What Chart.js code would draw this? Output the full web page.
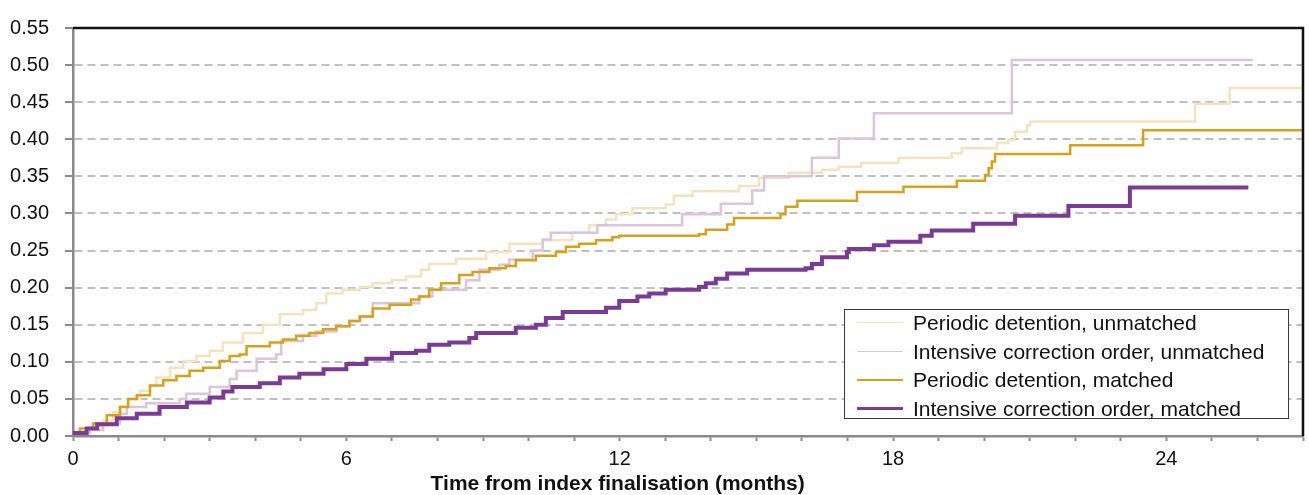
<!DOCTYPE html>
<html>
<head>
<meta charset="utf-8">
<title>Cumulative incidence by time from index finalisation</title>
<script src="https://cdn.jsdelivr.net/npm/chart.js@4.4.1/dist/chart.umd.min.js"></script>
<style>
  html, body { margin: 0; padding: 0; background: #ffffff; }
  #wrap { position: relative; width: 1309px; height: 495px; }
  #chart { display: block; }
  #legend {
    position: absolute; left: 844px; top: 309px; width: 445px; height: 110px;
    box-sizing: border-box; border: 1px solid #3a3a3a; background: #ffffff;
    font-family: "Liberation Sans", Arial, sans-serif; font-size: 21px; color: #111;
  }
  #legend .row { position: absolute; left: 0; height: 28px; line-height: 28px; white-space: nowrap; }
  #legend .swatch { position: absolute; left: 12px; width: 46px; top: 14px; }
  #legend .label { position: absolute; left: 68px; top: 0; }
</style>
</head>
<body>
<div id="wrap">
  <canvas id="chart" width="1309" height="495"></canvas>
  <div id="legend"></div>
</div>
<script>
// Series: step-change times (months) and cumulative proportion from that time on.
const seriesNames = [
  "Periodic detention, unmatched",
  "Intensive correction order, unmatched",
  "Periodic detention, matched",
  "Intensive correction order, matched"
];

const pdUnmatchedT = [0, 0.37, 0.66, 0.88, 1.05, 1.21, 1.47, 1.69, 1.83, 2.13, 2.42, 2.71, 3.0, 3.29, 3.73,
  4.17, 4.54, 5.05, 5.34, 5.56, 5.92, 6.3, 6.58, 7.0, 7.31, 7.64, 7.82, 8.41, 9.07, 9.58, 10.31, 10.96,
  11.33, 11.7, 11.92, 12.28, 13.01, 13.19, 13.6, 14.62, 15.06, 15.71, 16.44, 16.81, 17.3, 18.12, 19.29,
  19.51, 20.28, 20.53, 20.68, 20.94, 21.01, 24.63, 25.39, 27];
const pdUnmatchedV = [0.004, 0.012, 0.021, 0.032, 0.040, 0.050, 0.061, 0.068, 0.079, 0.092, 0.101, 0.108,
  0.115, 0.126, 0.139, 0.150, 0.164, 0.170, 0.179, 0.192, 0.197, 0.201, 0.206, 0.210, 0.215, 0.224, 0.232,
  0.239, 0.248, 0.259, 0.264, 0.274, 0.284, 0.292, 0.299, 0.307, 0.312, 0.324, 0.330, 0.337, 0.348, 0.355,
  0.359, 0.363, 0.368, 0.375, 0.381, 0.388, 0.395, 0.399, 0.410, 0.419, 0.424, 0.448, 0.469, 0.469];

const icoUnmatchedT = [0, 0.37, 0.66, 1.03, 1.18, 1.61, 2.34, 2.49, 3.0, 3.44, 3.59, 4.03, 4.46, 4.57, 5.05,
  5.34, 5.78, 6.07, 6.29, 6.58, 7.6, 7.89, 8.63, 8.92, 9.36, 9.58, 10.09, 10.31, 10.49, 11.51, 13.37, 14.22,
  14.91, 15.17, 16.22, 16.81, 17.58, 20.61, 25.9];
const icoUnmatchedV = [0.004, 0.008, 0.017, 0.030, 0.039, 0.044, 0.050, 0.057, 0.066, 0.077, 0.088, 0.104,
  0.110, 0.128, 0.135, 0.141, 0.148, 0.155, 0.161, 0.179, 0.188, 0.197, 0.210, 0.224, 0.231, 0.238, 0.250,
  0.265, 0.274, 0.284, 0.299, 0.313, 0.331, 0.350, 0.375, 0.401, 0.435, 0.507, 0.507];

const pdMatchedT = [0, 0.15, 0.44, 0.74, 1.03, 1.21, 1.4, 1.69, 1.98, 2.27, 2.56, 2.86, 3.22, 3.44, 3.66,
  3.81, 4.32, 4.61, 4.9, 5.19, 5.49, 5.78, 6.07, 6.3, 6.58, 6.95, 7.42, 7.6, 7.82, 8.08, 8.48, 8.77, 9.14,
  9.5, 9.72, 10.16, 10.6, 10.82, 11.11, 11.48, 11.84, 11.99, 13.74, 13.89, 14.36, 14.51, 15.53, 15.64,
  15.9, 17.21, 18.23, 19.4, 20.02, 20.1, 20.17, 20.24, 21.89, 23.49, 27];
const pdMatchedV = [0.004, 0.010, 0.017, 0.028, 0.039, 0.050, 0.055, 0.068, 0.075, 0.081, 0.088, 0.092,
  0.101, 0.108, 0.110, 0.121, 0.126, 0.130, 0.135, 0.139, 0.144, 0.148, 0.155, 0.161, 0.172, 0.177, 0.184,
  0.188, 0.197, 0.206, 0.217, 0.221, 0.226, 0.229, 0.237, 0.243, 0.248, 0.255, 0.259, 0.264, 0.268, 0.270,
  0.272, 0.278, 0.285, 0.294, 0.299, 0.309, 0.317, 0.329, 0.336, 0.344, 0.352, 0.361, 0.370, 0.380, 0.392,
  0.412, 0.412];

const icoMatchedT = [0, 0.3, 0.53, 0.96, 1.4, 1.9, 2.5, 3.0, 3.3, 3.5, 4.1, 4.54, 4.97, 5.5, 6.0, 6.44,
  7.0, 7.53, 7.82, 8.26, 8.70, 8.85, 9.72, 10.16, 10.38, 10.75, 11.70, 11.99, 12.39, 12.65, 13.01, 13.74,
  13.89, 14.11, 14.36, 14.80, 16.08, 16.22, 16.44, 16.99, 17.03, 17.58, 17.9, 18.6, 18.85, 19.76, 20.68,
  21.85, 23.2, 25.8];
const icoMatchedV = [0.004, 0.010, 0.016, 0.024, 0.030, 0.039, 0.045, 0.052, 0.060, 0.066, 0.071, 0.079,
  0.084, 0.090, 0.097, 0.104, 0.112, 0.115, 0.123, 0.126, 0.132, 0.139, 0.146, 0.150, 0.159, 0.167, 0.173,
  0.182, 0.188, 0.192, 0.197, 0.201, 0.206, 0.212, 0.219, 0.224, 0.226, 0.232, 0.241, 0.248, 0.252, 0.257,
  0.262, 0.270, 0.277, 0.286, 0.297, 0.310, 0.335, 0.335];

const xTickStep = 1;      // minor ticks every month
const xLabelEvery = 6;    // labelled every six months
const yTickStep = 0.05;

const seriesColors = ["#f5e3bf", "#dcc4dc", "#d6a21c", "#7b3b95"];
const seriesWidths = [2.5, 2.5, 2.5, 4];
const legendWidths = [1.5, 1.5, 2, 3];

function toPoints(ts, vs) {
  return ts.map((t, i) => ({ x: t, y: vs[i] }));
}

const allT = [pdUnmatchedT, icoUnmatchedT, pdMatchedT, icoMatchedT];
const allV = [pdUnmatchedV, icoUnmatchedV, pdMatchedV, icoMatchedV];
const drawOrder = [3, 2, 1, 0]; // matched ICO on top

// Each value holds from its time until the next change, so the line runs
// level first and rises at the next change time.
const datasets = seriesNames.map((name, i) => ({
  label: name,
  data: toPoints(allT[i], allV[i]),
  borderColor: seriesColors[i],
  borderWidth: seriesWidths[i],
  stepped: 'before',
  pointRadius: 0,
  fill: false,
  order: drawOrder[i]
}));

const tickFont = { family: "'Liberation Sans', Arial, sans-serif", size: 20 };

// Black frame on the top and right of the plot area.
const framePlugin = {
  id: 'frame',
  afterDraw(chart) {
    const { ctx, chartArea: a } = chart;
    ctx.save();
    ctx.strokeStyle = '#111111';
    ctx.lineWidth = 2.5;
    ctx.beginPath();
    ctx.moveTo(a.left, a.top);
    ctx.lineTo(a.right, a.top);
    ctx.lineTo(a.right, a.bottom);
    ctx.stroke();
    ctx.restore();
  }
};

// Axis title placed beneath the 12-month tick.
const xTitlePlugin = {
  id: 'xTitle',
  afterDraw(chart) {
    const { ctx } = chart;
    const xs = chart.scales.x;
    ctx.save();
    ctx.font = "bold 21px 'Liberation Sans', Arial, sans-serif";
    ctx.fillStyle = '#111111';
    ctx.textAlign = 'center';
    ctx.textBaseline = 'middle';
    ctx.fillText('Time from index finalisation (months)', xs.getPixelForValue(12) - 2, 484);
    ctx.restore();
  }
};

new Chart(document.getElementById('chart'), {
  type: 'line',
  data: { datasets },
  options: {
    responsive: false,
    animation: false,
    layout: { padding: { top: 23, right: 4, left: 0, bottom: 0 } },
    plugins: { legend: { display: false }, tooltip: { enabled: false } },
    scales: {
      x: {
        type: 'linear',
        min: 0,
        max: 27,
        afterFit(scale) { scale.height = 59; },
        ticks: {
          stepSize: xTickStep,
          autoSkip: false,
          maxRotation: 0,
          padding: 6,
          color: '#111111',
          font: tickFont,
          callback: v => (v % xLabelEvery === 0 ? String(v) : '')
        },
        grid: {
          drawOnChartArea: false,
          drawTicks: true,
          tickLength: 5,
          tickColor: '#8a8a8a',
          tickWidth: 2
        },
        border: { color: '#8a8a8a', width: 2.5 }
      },
      y: {
        min: 0,
        max: 0.55,
        afterFit(scale) { scale.width = 73; },
        ticks: {
          stepSize: yTickStep,
          padding: 16,
          color: '#111111',
          font: tickFont,
          callback: v => v.toFixed(2)
        },
        grid: {
          color: '#c0c0c0',
          lineWidth: 2,
          drawTicks: true,
          tickLength: 8,
          tickColor: '#8a8a8a',
          tickWidth: 2,
          tickBorderDash: []
        },
        border: { color: '#8a8a8a', width: 2.5, dash: [8, 5] }
      }
    }
  },
  plugins: [framePlugin, xTitlePlugin]
});

// Legend box inside the plot area.
const legendRowCentres = [13, 41.5, 70, 98.5];
const legendEl = document.getElementById('legend');
seriesNames.forEach((name, i) => {
  const row = document.createElement('div');
  row.className = 'row';
  row.style.top = (legendRowCentres[i] - 14) + 'px';
  const sw = document.createElement('div');
  sw.className = 'swatch';
  sw.style.borderTop = legendWidths[i] + 'px solid ' + seriesColors[i];
  sw.style.marginTop = (-legendWidths[i] / 2) + 'px';
  const lab = document.createElement('div');
  lab.className = 'label';
  lab.textContent = name;
  row.appendChild(sw);
  row.appendChild(lab);
  legendEl.appendChild(row);
});
</script>
</body>
</html>
